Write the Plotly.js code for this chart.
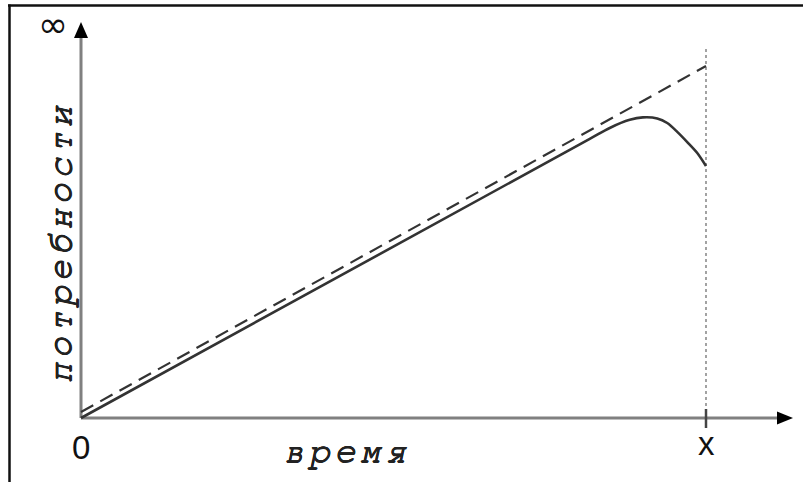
<!DOCTYPE html>
<html><head><meta charset="utf-8">
<script src="https://cdn.plot.ly/plotly-3.0.1.min.js"></script>
<style>html,body{margin:0;padding:0;background:#fff}#chart{width:803px;height:482px}</style>
</head><body><div id="chart"></div>
<script>
// Data (x: time, 0..100 where 100 = "x"; y: needs)
const dashX = [0, 100];
const dashY = [1.7, 100];
const needX = [0, 81.4, 84.6, 87.8, 89.9, 92.2, 93.8, 95.4, 97.0, 98.6, 100];
const needY = [0, 79.3, 82.4, 84.7, 85.4, 85.1, 83.8, 81.3, 78.4, 75.3, 71.6];
const limitX = [100, 100];
const limitY = [0, 105.1];
const xLabels = ['0', 'x'];
const xLabelPos = [0, 100];
const xTitle = 'время';
const yTitle = 'потребности';
const yTop = '∞';

// scale helpers: 6.25 px per x unit, 3.52 px per y unit, origin at pixel (81,418)
const XR = [-81/6.25, (803-81)/6.25];
const YR = [(418-482)/3.52, 418/3.52];
const px = p => (p-81)/6.25;
const py = p => (418-p)/3.52;

const data = [
  {x: limitX, y: limitY, mode:'lines', line:{color:'#666', width:1.2, dash:'3px,3px'}, hoverinfo:'skip'},
  {x: dashX, y: dashY, mode:'lines', line:{color:'#333', width:2.2, dash:'14px,8px'}, hoverinfo:'skip'},
  {x: needX, y: needY, mode:'lines', line:{color:'#333', width:2.6, shape:'spline', smoothing:0.8}, hoverinfo:'skip'}
];

const shapes = [
  {type:'line', xref:'x', yref:'y', x0:px(8), x1:px(803), y0:py(5.5), y1:py(5.5), line:{color:'#111', width:2.5}},
  {type:'line', xref:'x', yref:'y', x0:px(9.5), x1:px(9.5), y0:py(4.5), y1:py(482), line:{color:'#111', width:2.5}},
  {type:'line', xref:'x', yref:'y', x0:0, x1:px(778), y0:0, y1:0, line:{color:'#808080', width:3}, layer:'below'},
  {type:'line', xref:'x', yref:'y', x0:0, x1:0, y0:0, y1:py(37), line:{color:'#808080', width:3}, layer:'below'},
  {type:'path', xref:'x', yref:'y', path:`M ${px(793)} 0 L ${px(777)} ${py(411.5)} L ${px(777)} ${py(424.5)} Z`, fillcolor:'#000', line:{width:0}},
  {type:'path', xref:'x', yref:'y', path:`M 0 ${py(22)} L ${px(74)} ${py(38)} L ${px(88)} ${py(38)} Z`, fillcolor:'#000', line:{width:0}},
  {type:'line', xref:'x', yref:'y', x0:100, x1:100, y0:py(409), y1:py(428), line:{color:'#444', width:2.5}}
];

const monoFam = 'FreeMono, Courier New, monospace';
const thick = '0.5px 0 0 #222, -0.5px 0 0 #222, 0 0.5px 0 #222, 0 -0.5px 0 #222';
const annotations = [
  {x: xLabelPos[0], y: py(447), text: xLabels[0], showarrow:false, font:{family:'Liberation Sans, Arial, sans-serif', size:33, color:'#111'}},
  {x: xLabelPos[1], y: py(443), text: xLabels[1], showarrow:false, font:{family:'Liberation Sans, Arial, sans-serif', size:33, color:'#111'}},
  {x: px(347), y: py(451), text: xTitle, showarrow:false, font:{family:monoFam, size:36, style:'italic', color:'#222', shadow:thick}},
  {x: px(60), y: py(243), text: yTitle, textangle:-90, showarrow:false, font:{family:monoFam, size:36, style:'italic', color:'#222', shadow:thick}},
  {x: px(53), y: py(24), text: yTop, showarrow:false, font:{family:'DejaVu Sans', size:36, color:'#111'}}
];

const layout = {
  width:803, height:482, margin:{l:0,r:0,t:0,b:0},
  paper_bgcolor:'#fff', plot_bgcolor:'#fff', showlegend:false,
  xaxis:{range:XR, visible:false, fixedrange:true},
  yaxis:{range:YR, visible:false, fixedrange:true},
  shapes, annotations
};
Plotly.newPlot('chart', data, layout, {staticPlot:true, displayModeBar:false}).then(gd => {
  gd.querySelectorAll('.annotation-text').forEach(t => {
    if (t.textContent === xTitle || t.textContent === yTitle) t.style.letterSpacing = '4px';
  });
});
</script></body></html>
